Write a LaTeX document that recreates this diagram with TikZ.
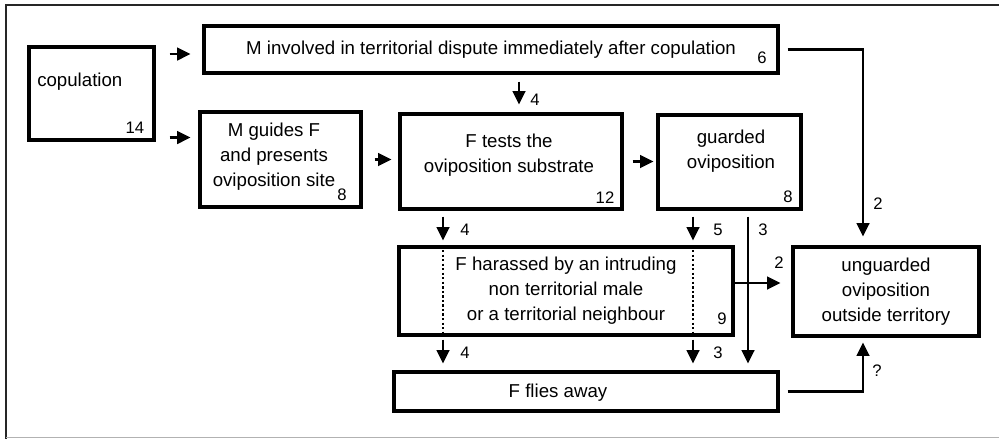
\documentclass[tikz,border=0pt]{standalone}
\usepackage{fontspec}
\setmainfont{Liberation Sans}
\usetikzlibrary{arrows.meta,calc}

\begin{document}
\begin{tikzpicture}[
    x=0.75pt, y=-0.75pt,
    box/.style 2 args={draw, line width=2.3pt, minimum width=#1*0.75pt, minimum height=#2*0.75pt, inner sep=0pt, align=center, font=\fontsize{14}{18.75}\selectfont},
    txt/.style={inner sep=0pt, align=center, font=\fontsize{14}{18.75}\selectfont},
    num/.style={inner sep=0pt, font=\fontsize{12.5}{14}\selectfont},
    arr/.style={line width=1.8pt, -{Triangle[length=10pt, width=9.5pt]}},
    dotline/.style={line width=1.8pt, dash pattern=on 1.7pt off 1.7pt},
]

\useasboundingbox (0,0) rectangle (999,439);

% === Frame ===
\draw[line width=2pt, black!85] (999,5) -- (6,5) -- (6,439);
\draw[line width=1.2pt, black!30] (6,437.5) -- (999,437.5);

% === Boxes ===
\node[box={125}{93}] (cop) at (91.5,93.5) {};
\node[box={574}{47}] (dispute) at (491,49.5) {M involved in territorial dispute immediately after copulation};
\node[box={161}{95}] (guides) at (280.5,159.5) {};
\node[box={222}{95}] (tests) at (511,161.5) {};
\node[box={143}{94}] (guarded) at (729.5,162) {};
\node[box={334}{88}] (harassed) at (566,291) {F harassed by an intruding\\non territorial male\\or a territorial neighbour};
\node[box={186}{89}] (unguarded) at (886,291.5) {unguarded\\oviposition\\outside territory};
\node[box={384}{39}] (flies) at (586,391.5) {};

% Texts placed off centre
\node[txt, anchor=west] (copText) at (37,82) {copulation};
\node[txt] (guidesText) at (274,157) {M guides F\\and presents\\oviposition site};
\node[txt] (testsText) at (509,155) {F tests the\\oviposition substrate};
\node[txt] (guardedText) at (731,151) {guarded\\oviposition};
\node[txt] (fliesText) at (558,393) {F flies away};

% Counts in the corners
\node[num] (copN) at (135,128) {14};
\node[num] (disputeN) at (762,58) {6};
\node[num] (guidesN) at (342,195) {8};
\node[num] (testsN) at (605,198) {12};
\node[num] (guardedN) at (788,197) {8};
\node[num] (harassedN) at (722,319) {9};

% === Columns of the vertical arrows ===
\coordinate (colA) at (443,0);
\coordinate (colB) at (693,0);
\coordinate (colC) at (748,0);
\coordinate (colD) at (863,0);
\coordinate (colE) at (519,0);
\coordinate (c1) at ([yshift=-3.4pt]dispute.west);
\coordinate (c2) at ([yshift=3pt]cop.south east);

% === Arrows ===
\draw[arr, shorten <=10.5pt, shorten >=9pt] (c1 -| cop.east) -- (c1);
\draw[arr, shorten <=10.5pt, shorten >=6pt] (c2) -- (c2 -| guides.west);
\draw[arr, shorten <=9pt, shorten >=5.25pt] (guides.east) -- (guides.east -| tests.west);
\draw[arr, shorten <=6.75pt, shorten >=2.25pt] (tests.east) -- (tests.east -| guarded.west);
\draw[arr, shorten <=5.25pt, shorten >=6pt] (dispute.south -| colE) -- (tests.north -| colE);

% through the harassment box
\draw[arr, shorten <=4.5pt, shorten >=3.75pt] (tests.south -| colA) -- (harassed.north -| colA);
\draw[dotline] (harassed.north -| colA) -- (harassed.south -| colA);
\draw[arr, shorten <=2.25pt, shorten >=5.25pt] (harassed.south -| colA) -- (flies.north -| colA);
\draw[arr, shorten <=4.5pt, shorten >=3.75pt] (guarded.south -| colB) -- (harassed.north -| colB);
\draw[dotline] (harassed.north -| colB) -- (harassed.south -| colB);
\draw[arr, shorten <=2.25pt, shorten >=5.25pt] (harassed.south -| colB) -- (flies.north -| colB);
\draw[arr, shorten <=4.5pt, shorten >=5.25pt] (guarded.south -| colC) -- (flies.north -| colC);

% to unguarded oviposition
\draw[arr, shorten >=8.25pt] ([yshift=6pt]harassed.east) -- ([yshift=6pt]harassed.east -| unguarded.west);
\draw[arr, shorten <=6pt, shorten >=6.75pt] (dispute.east) -| (unguarded.north -| colD);
\draw[arr, shorten <=6pt, shorten >=3.75pt] (flies.east) -| (unguarded.south -| colD);

% Arrow counts
\node[num] (l1) at (535,100) {4};
\node[num] (l2) at (465,230) {4};
\node[num] (l3) at (718,230) {5};
\node[num] (l4) at (763,230) {3};
\node[num] (l5) at (465,353) {4};
\node[num] (l6) at (718,353) {3};
\node[num] (l7) at (779,263) {2};
\node[num] (l8) at (878,204) {2};
\node[num] (l9) at (877,371) {?};

\end{tikzpicture}
\end{document}
